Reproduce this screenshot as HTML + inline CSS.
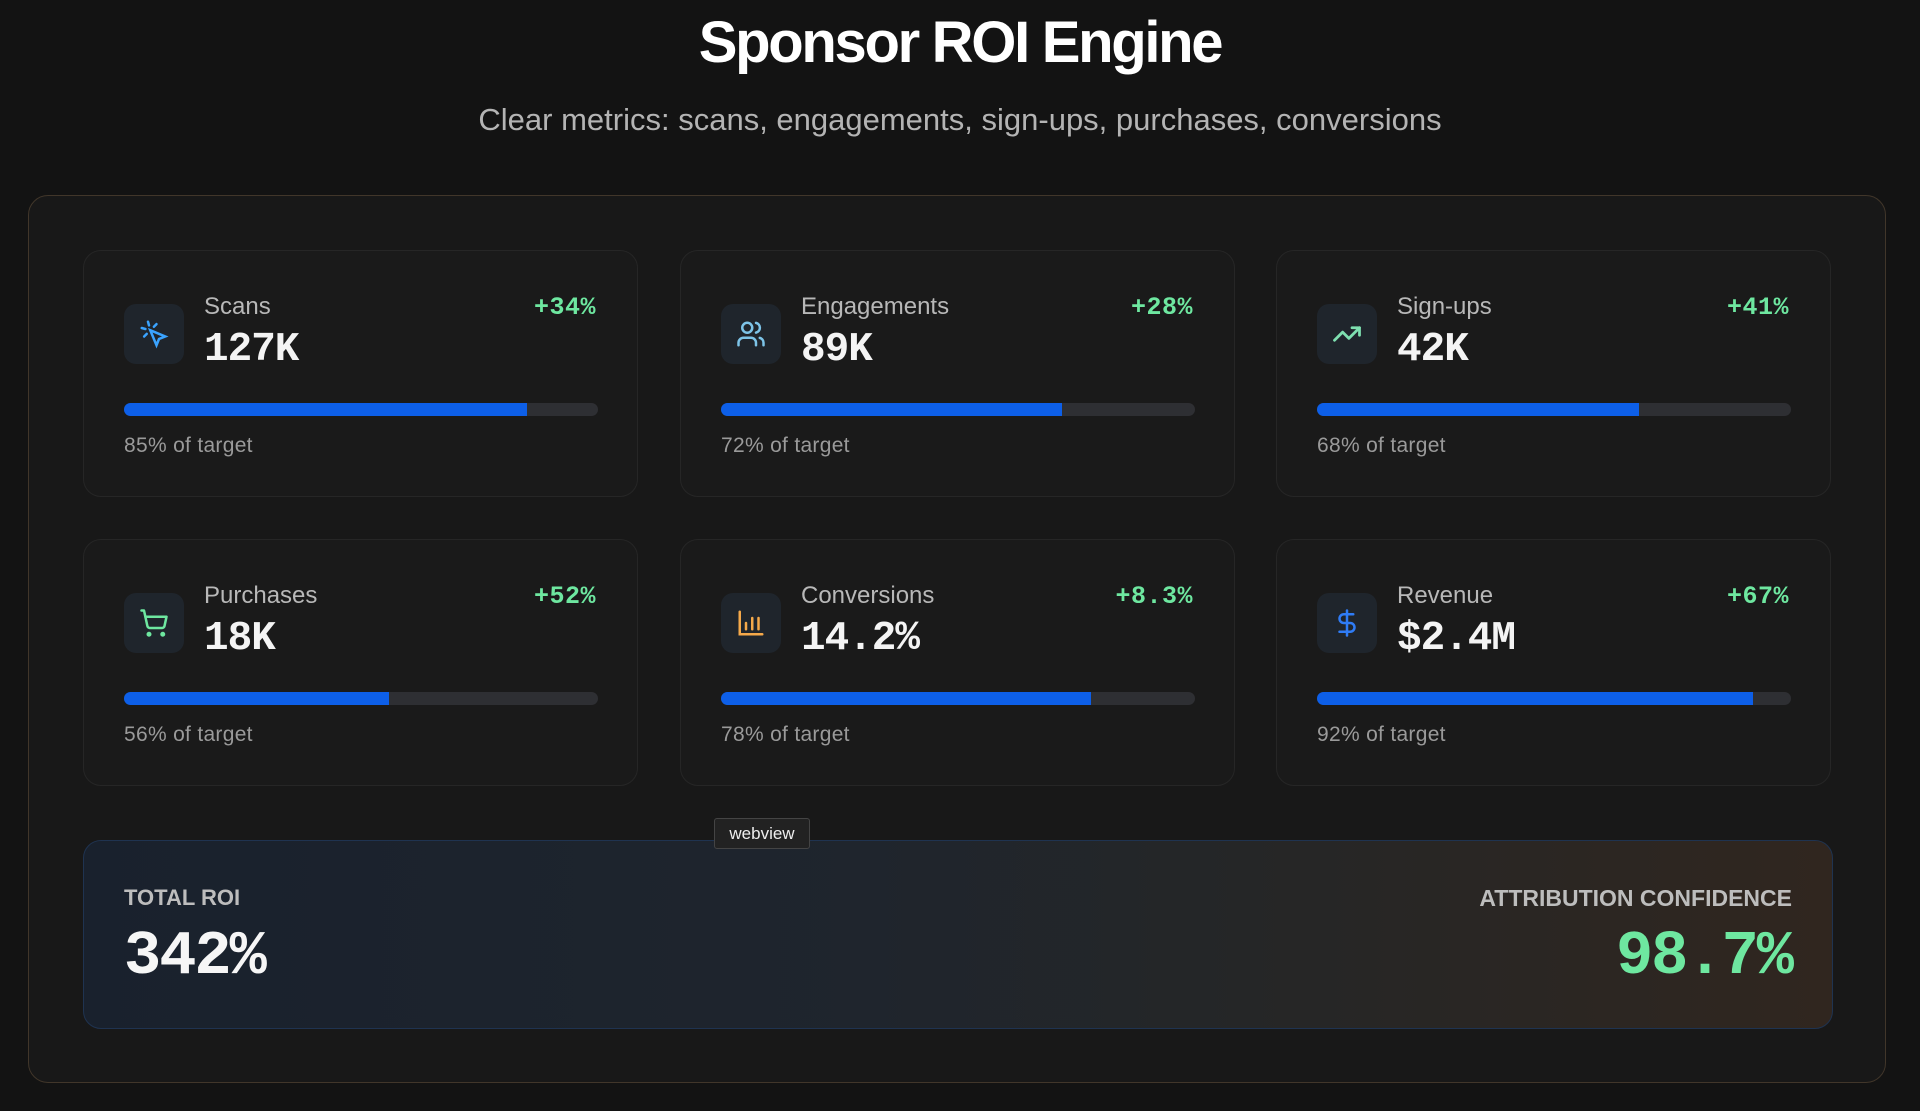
<!DOCTYPE html>
<html><head><meta charset="utf-8"><style>
*{box-sizing:border-box;margin:0;padding:0}
body{width:1920px;height:1111px;background:#131313;font-family:"Liberation Sans",sans-serif;position:relative;overflow:hidden;color:#fff}
h1{position:absolute;top:9px;left:0;width:1920px;text-align:center;font-size:58px;font-weight:bold;letter-spacing:-2.3px;color:#fff}
.sub{position:absolute;top:102px;left:0;width:1920px;text-align:center;font-size:31px;color:#b4b4b4}
.panel{position:absolute;left:28px;top:195px;width:1858px;height:888px;border:1.5px solid #41362a;border-radius:20px;background:#181818}
.card{position:absolute;width:555px;height:247px;border:1.5px solid #262626;border-radius:18px;background:#1a1a1a}
.ic{position:absolute;left:40px;top:53px;width:60px;height:60px;border-radius:12px;background:#1f252c;display:flex;align-items:center;justify-content:center}
.lbl{position:absolute;left:120px;top:42px;font-size:24px;color:#b8b8b8}
.val{position:absolute;left:120px;top:76px;font-family:"Liberation Mono",monospace;font-weight:bold;font-size:41px;color:#f4f4f4;letter-spacing:-1px}
.chg{position:absolute;right:41px;top:42px;font-family:"Liberation Mono",monospace;font-weight:bold;font-size:25px;color:#6ee7a0;letter-spacing:0.5px}
.bar{position:absolute;left:40px;top:152px;width:474px;height:13px;border-radius:7px;background:#2e2f33;overflow:hidden}
.bar i{display:block;height:100%;background:#0d5fe8}
.tg{position:absolute;left:40px;top:183px;font-size:21px;color:#9a9a9a;letter-spacing:0.3px}
.roi{position:absolute;left:83px;top:840px;width:1750px;height:189px;border:1.5px solid #1f3350;border-radius:18px;background:linear-gradient(90deg,#19212d 0%,#1f252d 45%,#262626 70%,#30261f 100%)}
.rl{position:absolute;top:44px;font-size:22px;font-weight:bold;color:#bdbdbd}
.rv{position:absolute;top:80px;font-family:"Liberation Mono",monospace;font-weight:bold;font-size:62px;letter-spacing:-2px}
.tip{position:absolute;left:714px;top:818px;width:96px;height:31px;background:#222;border:1px solid #444;border-radius:3px;font-size:17px;color:#eee;text-align:center;line-height:29px}
</style></head><body>
<h1>Sponsor ROI Engine</h1>
<div class="sub">Clear metrics: scans, engagements, sign-ups, purchases, conversions</div>
<div class="panel"></div>

<div class="card" style="left:83px;top:250px">
<div class="ic"><svg width="30" height="30" viewBox="0 0 24 24" fill="none" stroke="#3aa3ff" stroke-width="2" stroke-linecap="round"><path d="M9 9l5 12 2-5 5-2z"/><path d="M7.2 2.2l.8 2.9M5.1 8l-2.9-.8M14 4.1l-2.1 2.1M6.2 11.9l-2.1 2.1"/></svg></div>
<div class="lbl">Scans</div><div class="val">127K</div><div class="chg">+34%</div>
<div class="bar"><i style="width:85%"></i></div><div class="tg">85% of target</div></div>

<div class="card" style="left:680px;top:250px">
<div class="ic"><svg width="30" height="30" viewBox="0 0 24 24" fill="none" stroke="#7dc4e8" stroke-width="2" stroke-linecap="round"><circle cx="9" cy="7" r="4"/><path d="M2 21v-2a4 4 0 0 1 4-4h6a4 4 0 0 1 4 4v2M16 3.1a4 4 0 0 1 0 7.8M22 21v-2a4 4 0 0 0-3-3.9"/></svg></div>
<div class="lbl">Engagements</div><div class="val">89K</div><div class="chg">+28%</div>
<div class="bar"><i style="width:72%"></i></div><div class="tg">72% of target</div></div>

<div class="card" style="left:1276px;top:250px">
<div class="ic"><svg width="30" height="30" viewBox="0 0 24 24" fill="none" stroke="#7ee0b0" stroke-width="2.2" stroke-linecap="round" stroke-linejoin="round"><path d="M22 7l-8.5 8.5-5-5L2 17"/><path d="M16 7h6v6"/></svg></div>
<div class="lbl">Sign-ups</div><div class="val">42K</div><div class="chg">+41%</div>
<div class="bar"><i style="width:68%"></i></div><div class="tg">68% of target</div></div>

<div class="card" style="left:83px;top:539px">
<div class="ic"><svg width="30" height="30" viewBox="0 0 24 24" fill="none" stroke="#6ee7a0" stroke-width="2" stroke-linecap="round" stroke-linejoin="round"><circle cx="8" cy="21" r="1"/><circle cx="19" cy="21" r="1"/><path d="M2 2h2l2.7 12.4a2 2 0 0 0 2 1.6h9.7a2 2 0 0 0 2-1.6L22 7H5"/></svg></div>
<div class="lbl">Purchases</div><div class="val">18K</div><div class="chg">+52%</div>
<div class="bar"><i style="width:56%"></i></div><div class="tg">56% of target</div></div>

<div class="card" style="left:680px;top:539px">
<div class="ic"><svg width="30" height="30" viewBox="0 0 24 24" fill="none" stroke="#f5a94a" stroke-width="2" stroke-linecap="round"><path d="M3 3v18h18M8 17v-5M13 17V8M18 17v-9"/></svg></div>
<div class="lbl">Conversions</div><div class="val">14.2%</div><div class="chg">+8.3%</div>
<div class="bar"><i style="width:78%"></i></div><div class="tg">78% of target</div></div>

<div class="card" style="left:1276px;top:539px">
<div class="ic"><svg width="30" height="30" viewBox="0 0 24 24" fill="none" stroke="#2f7cf6" stroke-width="2" stroke-linecap="round"><path d="M12 2v20M17 5H9.5a3.5 3.5 0 0 0 0 7h5a3.5 3.5 0 0 1 0 7H6"/></svg></div>
<div class="lbl">Revenue</div><div class="val">$2.4M</div><div class="chg">+67%</div>
<div class="bar"><i style="width:92%"></i></div><div class="tg">92% of target</div></div>

<div class="roi">
<div class="rl" style="left:40px">TOTAL ROI</div>
<div class="rv" style="left:40px;color:#f6f6f6">342%</div>
<div class="rl" style="right:40px;font-size:23px">ATTRIBUTION CONFIDENCE</div>
<div class="rv" style="right:40px;color:#6ee7a0">98.7%</div>
</div>
<div class="tip">webview</div>
</body></html>
